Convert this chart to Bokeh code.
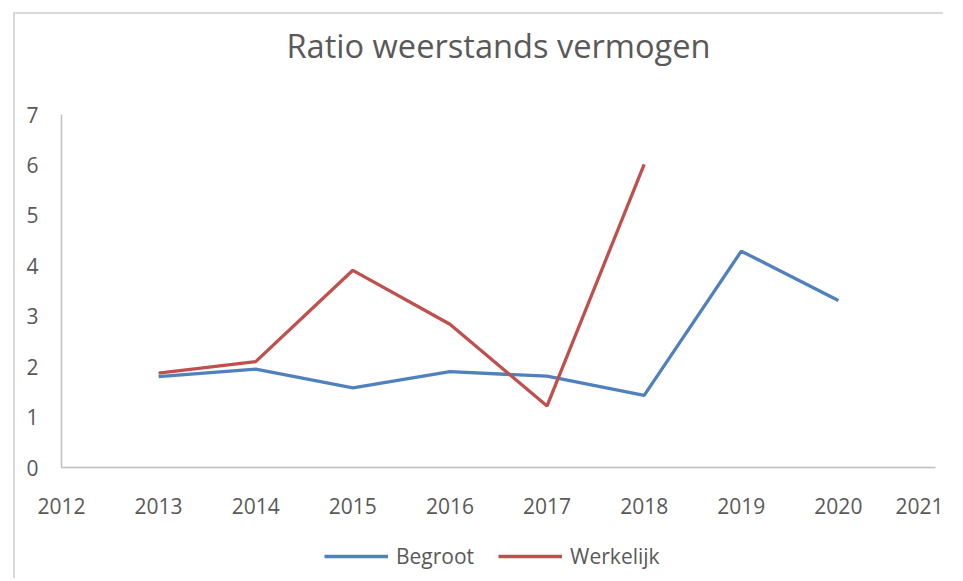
from bokeh.plotting import figure
from bokeh.models import FixedTicker, Range1d, Legend, LegendItem
from bokeh.layouts import column
from bokeh.embed import file_html
from bokeh.resources import INLINE

years_begroot = [2013, 2014, 2015, 2016, 2017, 2018, 2019, 2020]
begroot = [1.80, 1.95, 1.58, 1.90, 1.81, 1.43, 4.29, 3.31]
years_werkelijk = [2013, 2014, 2015, 2016, 2017, 2018]
werkelijk = [1.87, 2.10, 3.91, 2.84, 1.22, 6.01]
x_ticks = list(range(2012, 2022))
y_ticks = list(range(0, 8))
title_text = "Ratio weerstands vermogen"

FONT = "Open Sans"
TXT = "#595959"
BLUE = "#4f81bd"
RED = "#c0504d"
BORDER = "2px solid #d9d9d9"

# title strip
tp = figure(width=930, height=60, output_backend="svg", toolbar_location=None,
            x_range=Range1d(0, 1), y_range=Range1d(0, 1), title=title_text,
            min_border=0, min_border_left=27, min_border_right=0)
tp.margin = (12, 0, 0, 13)
tp.styles = {"border-left": BORDER, "border-top": BORDER}
tp.axis.visible = False
tp.grid.visible = False
tp.outline_line_color = None
tp.title.align = "center"
tp.title.text_font = FONT
tp.title.text_font_size = "32.6px"
tp.title.text_font_style = "normal"
tp.title.text_color = TXT
tp.title.standoff = 12

# main chart
p = figure(width=930, height=456, output_backend="svg", toolbar_location=None,
           x_range=Range1d(2012, 2021), y_range=Range1d(0, 7),
           min_border_left=46, min_border_right=10, min_border_top=42, min_border_bottom=61)
p.margin = (0, 0, 0, 13)
p.styles = {"border-left": BORDER}

p.outline_line_color = None
p.xgrid.grid_line_color = None
p.ygrid.grid_line_color = None

for ax in (p.xaxis[0], p.yaxis[0]):
    ax.axis_line_color = "#bfbfbf"
    ax.axis_line_width = 1.5
    ax.major_tick_line_color = None
    ax.minor_tick_line_color = None
    ax.major_label_text_font = FONT
    ax.major_label_text_font_size = "21px"
    ax.major_label_text_color = TXT

p.xaxis[0].ticker = FixedTicker(ticks=x_ticks)
p.yaxis[0].ticker = FixedTicker(ticks=y_ticks)
p.xaxis[0].major_label_standoff = 24
p.yaxis[0].major_label_standoff = 17

p.line(years_begroot, begroot, line_color=BLUE, line_width=3.3)
p.line(years_werkelijk, werkelijk, line_color=RED, line_width=3.3)

# legend strip below the chart
lp = figure(width=930, height=50, output_backend="svg", toolbar_location=None,
            x_range=Range1d(0, 1), y_range=Range1d(0, 1), min_border=0)
lp.margin = (0, 0, 0, 13)
lp.styles = {"border-left": BORDER}
lp.axis.visible = False
lp.grid.visible = False
lp.outline_line_color = None
l1 = lp.line(years_begroot, begroot, line_color=BLUE, line_width=3.3)
l2 = lp.line(years_werkelijk, werkelijk, line_color=RED, line_width=3.3)

legend = Legend(items=[LegendItem(label="Begroot", renderers=[l1]),
                       LegendItem(label="Werkelijk", renderers=[l2])],
                orientation="horizontal", location=(263, 8),
                border_line_color=None, background_fill_alpha=0,
                label_text_font=FONT, label_text_font_size="21px", label_text_color=TXT,
                glyph_width=64, label_standoff=8, spacing=24, margin=0, padding=4)
lp.add_layout(legend, "center")

layout = column(tp, p, lp, spacing=0)
open("out.html", "w").write(file_html(layout, INLINE))
